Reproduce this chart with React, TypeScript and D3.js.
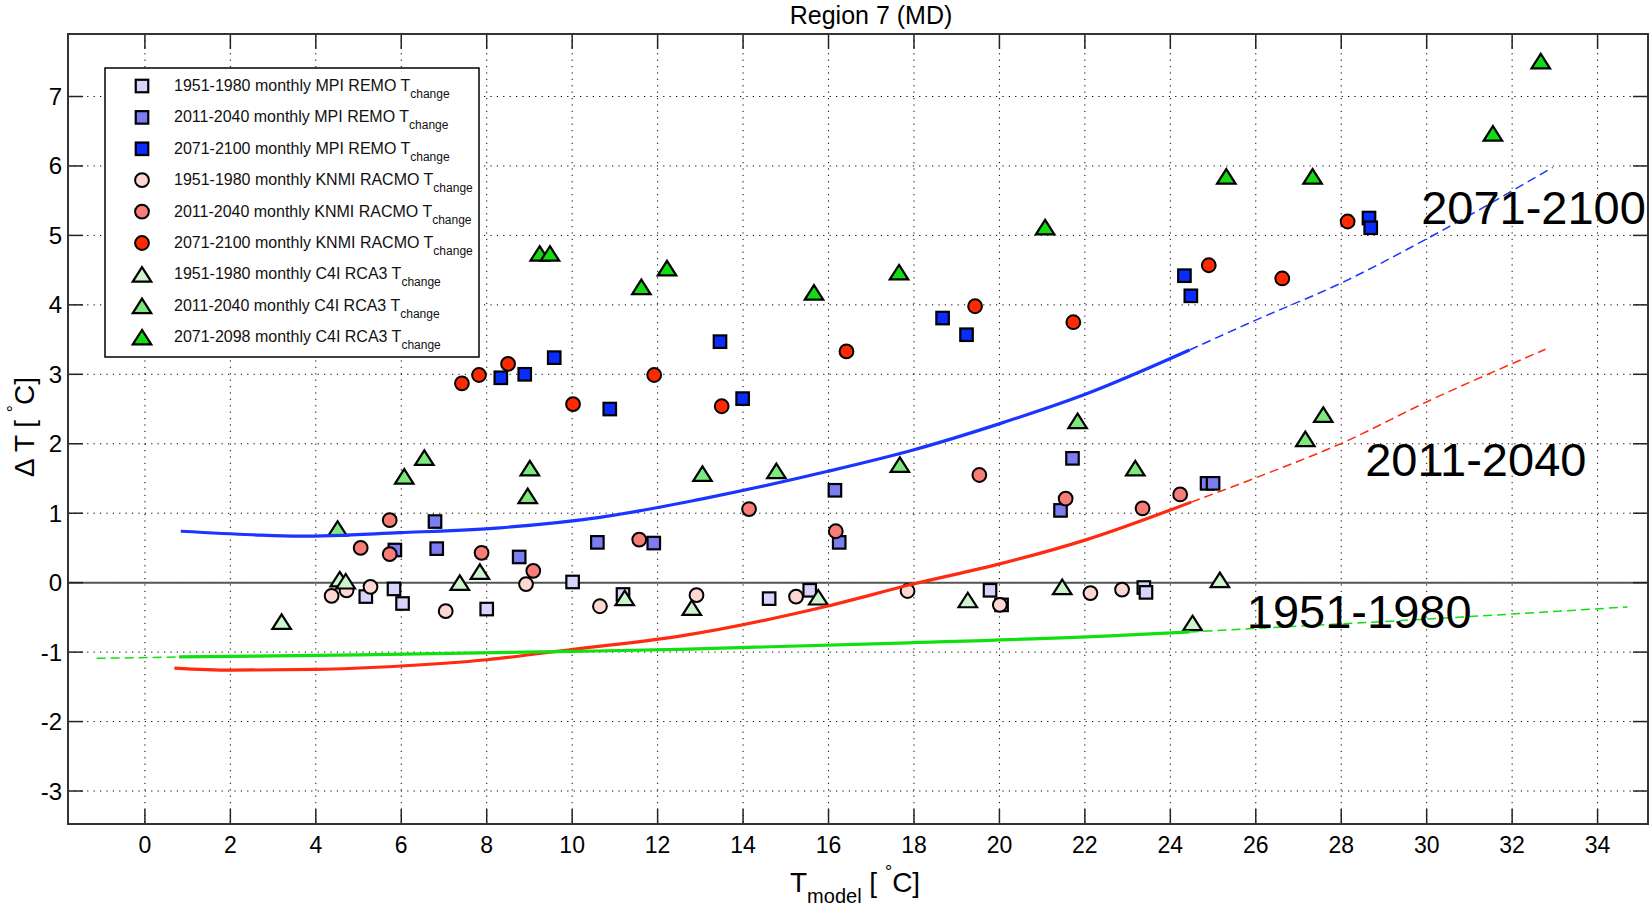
import React from "react";
import * as d3 from "d3";

// ---------- axis ticks ----------
const xTickValues = [0, 2, 4, 6, 8, 10, 12, 14, 16, 18, 20, 22, 24, 26, 28, 30, 32, 34];
const yTickValues = [-3, -2, -1, 0, 1, 2, 3, 4, 5, 6, 7];

// ---------- MPI REMO (squares) ----------
const mpi1951X = [5.17, 5.83, 6.03, 8.0, 10.01, 11.19, 14.61, 15.56, 19.78, 20.05, 23.38, 23.43];
const mpi1951Y = [-0.2, -0.09, -0.3, -0.38, 0.01, -0.17, -0.23, -0.11, -0.11, -0.32, -0.07, -0.14];
const mpi2011X = [5.85, 6.79, 6.83, 8.76, 10.59, 11.91, 16.15, 16.25, 21.43, 21.71, 24.86, 25.0];
const mpi2011Y = [0.47, 0.88, 0.49, 0.37, 0.58, 0.57, 1.33, 0.58, 1.04, 1.79, 1.43, 1.43];
const mpi2071X = [8.33, 8.89, 9.58, 10.88, 13.46, 13.99, 18.67, 19.23, 24.33, 24.48, 28.65, 28.69];
const mpi2071Y = [2.95, 3.0, 3.24, 2.5, 3.47, 2.65, 3.81, 3.57, 4.42, 4.13, 5.25, 5.11];

// ---------- KNMI RACMO (circles) ----------
const knmi1951X = [4.37, 4.72, 5.28, 7.04, 8.92, 10.65, 12.91, 15.24, 17.85, 20.01, 22.13, 22.87];
const knmi1951Y = [-0.19, -0.11, -0.06, -0.41, -0.02, -0.34, -0.18, -0.2, -0.12, -0.32, -0.15, -0.1];
const knmi2011X = [5.05, 5.73, 5.73, 7.88, 9.09, 11.57, 14.14, 16.17, 19.53, 21.55, 23.35, 24.23];
const knmi2011Y = [0.5, 0.9, 0.41, 0.43, 0.17, 0.62, 1.06, 0.74, 1.55, 1.21, 1.07, 1.27];
const knmi2071X = [7.42, 7.82, 8.5, 10.02, 11.92, 13.5, 16.42, 19.43, 21.73, 24.9, 26.62, 28.15];
const knmi2071Y = [2.87, 2.99, 3.15, 2.57, 2.99, 2.54, 3.33, 3.98, 3.75, 4.57, 4.38, 5.2];

// ---------- C4I RCA3 (triangles) ----------
const c4i1951X = [3.2, 4.56, 4.7, 7.37, 7.84, 11.23, 12.8, 15.76, 19.26, 21.47, 24.52, 25.16];
const c4i1951Y = [-0.56, 0.05, 0.02, 0.0, 0.16, -0.22, -0.36, -0.21, -0.25, -0.06, -0.58, 0.04];
const c4i2011X = [4.51, 6.07, 6.54, 8.96, 9.01, 13.05, 14.78, 17.67, 21.83, 23.18, 27.16, 27.58];
const c4i2011Y = [0.78, 1.53, 1.8, 1.25, 1.65, 1.57, 1.61, 1.7, 2.33, 1.65, 2.07, 2.42];
const c4i2071X = [9.24, 9.48, 11.62, 12.22, 15.66, 17.65, 21.07, 25.31, 27.33, 31.55, 32.67];
const c4i2071Y = [4.74, 4.74, 4.26, 4.53, 4.18, 4.47, 5.12, 5.85, 5.85, 6.47, 7.51];

// ---------- fitted curves ----------
const fit2071Solid = [[0.84, 0.74], [2.5, 0.69], [3.63, 0.67], [5.97, 0.72], [8.31, 0.79], [10.65, 0.94], [12.99, 1.2], [15.96, 1.6], [17.98, 1.91], [20.01, 2.29], [22.04, 2.72], [24.45, 3.35]];
const fit2071Dashed = [[24.45, 3.35], [26.0, 3.78], [28.02, 4.32], [30.06, 4.97], [32.95, 5.98]];
const fit2011Solid = [[0.69, -1.23], [2.0, -1.26], [4.0, -1.25], [6.0, -1.2], [8.0, -1.11], [10.02, -0.96], [12.52, -0.77], [15.96, -0.34], [17.98, -0.02], [20.01, 0.27], [22.04, 0.62], [24.49, 1.16]];
const fit2011Dashed = [[24.49, 1.16], [26.0, 1.51], [28.02, 2.01], [30.06, 2.62], [32.78, 3.36]];
const fit1951DashedLeft = [[-1.13, -1.09], [0.8, -1.07]];
const fit1951Solid = [[0.8, -1.07], [5.0, -1.04], [10.0, -0.99], [12.52, -0.96], [17.67, -0.87], [22.82, -0.76], [24.45, -0.71]];
const fit1951DashedRight = [[24.45, -0.71], [30.4, -0.51], [34.7, -0.35]];

// ---------- text ----------
const titleText = "Region 7 (MD)";
const legendLabels = [
  "1951-1980 monthly MPI REMO T",
  "2011-2040 monthly MPI REMO T",
  "2071-2100 monthly MPI REMO T",
  "1951-1980 monthly KNMI RACMO T",
  "2011-2040 monthly KNMI RACMO T",
  "2071-2100 monthly KNMI RACMO T",
  "1951-1980 monthly C4I RCA3 T",
  "2011-2040 monthly C4I RCA3 T",
  "2071-2098 monthly C4I RCA3 T",
];
const periodLabels = ["2071-2100", "2011-2040", "1951-1980"];
const periodLabelX = [29.87, 28.56, 25.79];
const periodLabelY = [5.16, 1.53, -0.65];

// ---------- styles ----------
const seriesList = [
  { xs: mpi1951X, ys: mpi1951Y, shape: "square", fill: "#d5d5fb" },
  { xs: mpi2011X, ys: mpi2011Y, shape: "square", fill: "#7d7df2" },
  { xs: mpi2071X, ys: mpi2071Y, shape: "square", fill: "#0a2cff" },
  { xs: knmi1951X, ys: knmi1951Y, shape: "circle", fill: "#fdd8d2" },
  { xs: knmi2011X, ys: knmi2011Y, shape: "circle", fill: "#f77d76" },
  { xs: knmi2071X, ys: knmi2071Y, shape: "circle", fill: "#ff2a00" },
  { xs: c4i1951X, ys: c4i1951Y, shape: "triangle", fill: "#cdf5cd" },
  { xs: c4i2011X, ys: c4i2011Y, shape: "triangle", fill: "#7de87d" },
  { xs: c4i2071X, ys: c4i2071Y, shape: "triangle", fill: "#14dc14" },
];

const W = 1649;
const H = 908;
const L = 68, R = 1648, T = 34, B = 824;
const FONT = "'Liberation Sans', Arial, Helvetica, sans-serif";

function Marker({ shape, cx, cy, fill }: { shape: string; cx: number; cy: number; fill: string }) {
  if (shape === "square") {
    const s = 12.5;
    return <rect x={cx - s / 2} y={cy - s / 2} width={s} height={s} fill={fill} stroke="#000" strokeWidth={2.2} />;
  }
  if (shape === "circle") {
    return <circle cx={cx} cy={cy} r={6.9} fill={fill} stroke="#000" strokeWidth={2} />;
  }
  const w = 18.5, h = 14.5;
  const pts = `${cx},${cy - h / 2} ${cx + w / 2},${cy + h / 2} ${cx - w / 2},${cy + h / 2}`;
  return <polygon points={pts} fill={fill} stroke="#000" strokeWidth={2.2} strokeLinejoin="miter" />;
}

export default function App() {
  const x = d3.scaleLinear().domain([-1.8, 35.18]).range([L, R]);
  const y = d3.scaleLinear().domain([-3.475, 7.9]).range([B, T]);
  const line = d3
    .line<number[]>()
    .x((d) => x(d[0]))
    .y((d) => y(d[1]))
    .curve(d3.curveMonotoneX);

  const tickLen = 15;
  const legendX0 = 105, legendY0 = 68, legendX1 = 479, legendY1 = 357;
  const rowY0 = 86, rowStep = 31.4;

  return (
    <div style={{ position: "absolute", left: 0, top: 0, width: W, height: H, background: "#fff" }}>
      <svg width={W} height={H} viewBox={`0 0 ${W} ${H}`} style={{ display: "block", fontFamily: FONT }}>
        <rect x={0} y={0} width={W} height={H} fill="#fff" />
        <defs>
          <clipPath id="plotclip">
            <rect x={L} y={T} width={R - L} height={B - T} />
          </clipPath>
        </defs>

        {/* grid */}
        <g stroke="#000" strokeWidth={1} strokeDasharray="1.2,5.2">
          {xTickValues.map((t) => (
            <line key={"gx" + t} x1={x(t)} x2={x(t)} y1={T} y2={B} />
          ))}
          {yTickValues.map((t) => (
            <line key={"gy" + t} x1={L} x2={R} y1={y(t)} y2={y(t)} />
          ))}
        </g>

        {/* zero line */}
        <line x1={L} x2={R} y1={y(0)} y2={y(0)} stroke="#555" strokeWidth={2} />

        {/* markers */}
        <g clipPath="url(#plotclip)">
          {seriesList.map((s, si) =>
            s.xs.map((v, i) => (
              <Marker key={si + "-" + i} shape={s.shape} cx={x(v)} cy={y(s.ys[i])} fill={s.fill} />
            ))
          )}
        </g>

        {/* fitted curves */}
        <g fill="none" clipPath="url(#plotclip)">
          <path d={line(fit2071Solid) || ""} stroke="#1a35ff" strokeWidth={3.2} />
          <path d={line(fit2071Dashed) || ""} stroke="#1a35ff" strokeWidth={1.5} strokeDasharray="9,5" />
          <path d={line(fit2011Solid) || ""} stroke="#ff2a10" strokeWidth={3.2} />
          <path d={line(fit2011Dashed) || ""} stroke="#ff2a10" strokeWidth={1.5} strokeDasharray="9,5" />
          <path d={line(fit1951DashedLeft) || ""} stroke="#10e010" strokeWidth={1.5} strokeDasharray="9,5" />
          <path d={line(fit1951Solid) || ""} stroke="#10e010" strokeWidth={3.2} />
          <path d={line(fit1951DashedRight) || ""} stroke="#10e010" strokeWidth={1.5} strokeDasharray="9,5" />
        </g>

        {/* period labels */}
        {periodLabels.map((lab, i) => (
          <text key={lab} x={x(periodLabelX[i])} y={y(periodLabelY[i])} fontSize={47} fill="#000">
            {lab}
          </text>
        ))}

        {/* ticks */}
        <g stroke="#222" strokeWidth={1.5}>
          {xTickValues.map((t) => (
            <g key={"tx" + t}>
              <line x1={x(t)} x2={x(t)} y1={B} y2={B - tickLen} />
              <line x1={x(t)} x2={x(t)} y1={T} y2={T + tickLen} />
            </g>
          ))}
          {yTickValues.map((t) => (
            <g key={"ty" + t}>
              <line x1={L} x2={L + tickLen} y1={y(t)} y2={y(t)} />
              <line x1={R} x2={R - tickLen} y1={y(t)} y2={y(t)} />
            </g>
          ))}
        </g>

        {/* frame */}
        <rect x={L} y={T} width={R - L} height={B - T} fill="none" stroke="#333" strokeWidth={2} />

        {/* tick labels */}
        {xTickValues.map((t) => (
          <text key={"lx" + t} x={x(t)} y={853} fontSize={23} textAnchor="middle" fill="#000">
            {t}
          </text>
        ))}
        {yTickValues.map((t) => (
          <text key={"ly" + t} x={62} y={y(t) + 8.5} fontSize={24} textAnchor="end" fill="#000">
            {t}
          </text>
        ))}

        {/* title */}
        <text x={871} y={24} fontSize={25} textAnchor="middle" fill="#000">
          {titleText}
        </text>

        {/* x label */}
        <text x={790} y={892} fontSize={28} fill="#000">
          T
          <tspan fontSize={20} dy={11}>model</tspan>
          <tspan fontSize={28} dy={-11}> [ </tspan>
          <tspan fontSize={18} dy={-14}>°</tspan>
          <tspan fontSize={28} dy={14}>C]</tspan>
        </text>

        {/* y label */}
        <text transform={`translate(34,${(T + B) / 2 - 2}) rotate(-90)`} fontSize={28} textAnchor="middle" fill="#000">
          {"Δ T [ "}
          <tspan fontSize={18} dy={-14}>°</tspan>
          <tspan fontSize={28} dy={14}>C]</tspan>
        </text>

        {/* legend */}
        <rect x={legendX0} y={legendY0} width={legendX1 - legendX0} height={legendY1 - legendY0} fill="#fff" stroke="#000" strokeWidth={1.5} />
        {legendLabels.map((lab, i) => {
          const cy = rowY0 + i * rowStep;
          return (
            <g key={"leg" + i}>
              <Marker shape={seriesList[i].shape} cx={142} cy={cy} fill={seriesList[i].fill} />
              <text x={174} y={cy + 5} fontSize={16} fill="#111">
                {lab}
                <tspan fontSize={12} dy={7}>change</tspan>
              </text>
            </g>
          );
        })}
      </svg>
    </div>
  );
}
